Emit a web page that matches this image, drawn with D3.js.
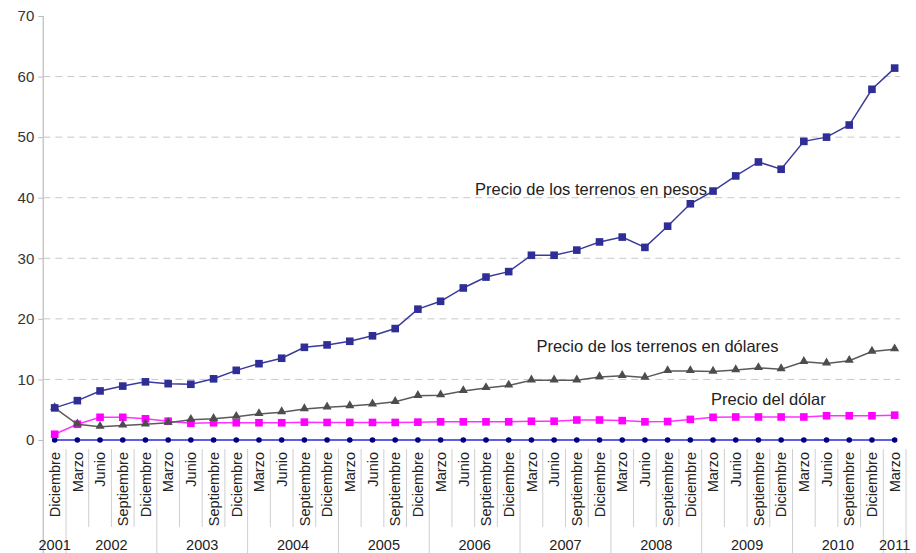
<!DOCTYPE html>
<html><head><meta charset="utf-8">
<script src="https://cdn.jsdelivr.net/npm/d3@7"></script>
<style>
html,body{margin:0;padding:0;background:#fff;}
text{font-family:"Liberation Sans",Arial,sans-serif;}
</style></head>
<body><svg id="chart" width="916" height="553"></svg>
<script>
const months = ["Diciembre","Marzo","Junio","Septiembre","Diciembre","Marzo","Junio","Septiembre","Diciembre","Marzo","Junio","Septiembre","Diciembre","Marzo","Junio","Septiembre","Diciembre","Marzo","Junio","Septiembre","Diciembre","Marzo","Junio","Septiembre","Diciembre","Marzo","Junio","Septiembre","Diciembre","Marzo","Junio","Septiembre","Diciembre","Marzo","Junio","Septiembre","Diciembre","Marzo"];
const years = ["2001","2002","2002","2002","2002","2003","2003","2003","2003","2004","2004","2004","2004","2005","2005","2005","2005","2006","2006","2006","2006","2007","2007","2007","2007","2008","2008","2008","2008","2009","2009","2009","2009","2010","2010","2010","2010","2011"];
const pesos = [5.3,6.5,8.1,8.9,9.6,9.3,9.2,10.1,11.5,12.6,13.5,15.3,15.7,16.3,17.2,18.4,21.6,22.9,25.1,26.9,27.8,30.5,30.5,31.35,32.7,33.5,31.8,35.3,39.0,41.1,43.6,45.9,44.7,49.3,50.0,52.0,57.9,61.4];
const dolares = [5.3,2.6,2.2,2.4,2.6,2.85,3.35,3.5,3.85,4.3,4.6,5.1,5.4,5.6,5.9,6.3,7.3,7.4,8.1,8.6,9.0,9.85,9.85,9.85,10.4,10.6,10.3,11.4,11.4,11.3,11.55,11.9,11.7,12.9,12.65,13.1,14.6,15.0];
const dolar = [0.95,2.6,3.75,3.75,3.5,3.1,2.75,2.85,2.85,2.85,2.85,2.95,2.9,2.9,2.9,2.9,2.95,3.0,3.0,3.0,3.0,3.1,3.1,3.3,3.3,3.2,3.0,3.05,3.4,3.75,3.8,3.8,3.8,3.8,4.0,4.0,4.0,4.1];
const base = months.map(() => 0);
const yTicks = [0,10,20,30,40,50,60,70];
const labels = ["Precio de los terrenos en pesos","Precio de los terrenos en dólares","Precio del dólar"];

const svg = d3.select("#chart");
const mLeft = 43.3, mRight = 906, mTop = 16, mBottom = 440;
const idx = d3.range(months.length);
const x = d3.scaleBand().domain(idx).range([mLeft, mRight]).padding(0);
const cx = i => x(i) + x.bandwidth()/2;
const y = d3.scaleLinear().domain([0,70]).range([mBottom, mTop]);

// gridlines
svg.append("g").selectAll("line").data(yTicks.filter(t => t>0 && t<70)).join("line")
  .attr("x1", mLeft).attr("x2", 900).attr("y1", d=>y(d)).attr("y2", d=>y(d))
  .attr("stroke", "#c8c8c8").attr("stroke-width", 1).attr("stroke-dasharray", "7,5");

// y axis
const yAxis = d3.axisLeft(y).tickValues(yTicks).tickSize(5).tickPadding(4);
const gy = svg.append("g").attr("transform", `translate(${mLeft},0)`).call(yAxis);
gy.select(".domain").remove();
gy.selectAll(".tick line").attr("stroke", "#bbb");
gy.selectAll(".tick text").attr("font-size", 15).attr("fill", "#333")
  .style("font-family", '"Liberation Sans",Arial,sans-serif');
svg.append("line").attr("x1", mLeft).attr("x2", mLeft).attr("y1", mTop).attr("y2", 553)
  .attr("stroke", "#c8c8c8").attr("stroke-width", 1.5);

// category separators
const sepG = svg.append("g");
idx.forEach(i => {
  const xb = x(i) + x.bandwidth();
  const yearBoundary = i === months.length-1 || years[i] !== years[i+1];
  sepG.append("line").attr("x1", xb).attr("x2", xb)
    .attr("y1", 449).attr("y2", yearBoundary ? 553 : 527)
    .attr("stroke", "#cfcfcf").attr("stroke-width", 1);
});

// category labels (rotated)
svg.append("g").selectAll("text").data(idx).join("text")
  .attr("transform", d => `translate(${cx(d)},452) rotate(-90)`)
  .attr("text-anchor", "end").attr("dy", "0.36em")
  .attr("font-size", 14.5).attr("fill", "#222")
  .text(d => months[d]);

// year labels
const yearGroups = d3.groups(idx, i => years[i]);
svg.append("g").selectAll("text").data(yearGroups).join("text")
  .attr("x", d => (x(d[1][0]) + x(d[1][d[1].length-1]) + x.bandwidth())/2)
  .attr("y", 550).attr("text-anchor", "middle")
  .attr("font-size", 14.5).attr("fill", "#222")
  .text(d => d[0]);

const line = d3.line().x((d,i)=>cx(i)).y(d=>y(d));

// series: baseline
svg.append("path").datum(base).attr("d", line).attr("fill","none").attr("stroke","#2a2ad8").attr("stroke-width",1.5);
svg.append("g").selectAll("circle").data(base).join("circle")
  .attr("cx",(d,i)=>cx(i)).attr("cy",d=>y(d)).attr("r",2.8).attr("fill","#000080");

// dolar (magenta)
svg.append("path").datum(dolar).attr("d", line).attr("fill","none").attr("stroke","#ff33ff").attr("stroke-width",1.5);
svg.append("g").selectAll("rect").data(dolar).join("rect")
  .attr("x",(d,i)=>cx(i)-3.8).attr("y",d=>y(d)-3.8).attr("width",7.6).attr("height",7.6).attr("fill","#ff00ff");

// dolares (gray triangles)
svg.append("path").datum(dolares).attr("d", line).attr("fill","none").attr("stroke","#5a5a5a").attr("stroke-width",1.5);
const tri = d3.symbol().type(d3.symbolTriangle).size(36);
svg.append("g").selectAll("path").data(dolares).join("path")
  .attr("d", tri).attr("transform",(d,i)=>`translate(${cx(i)},${y(d)-0.5})`).attr("fill","#4d4d4d");

// pesos (blue squares)
svg.append("path").datum(pesos).attr("d", line).attr("fill","none").attr("stroke","#3a3a9c").attr("stroke-width",1.5);
svg.append("g").selectAll("rect").data(pesos).join("rect")
  .attr("x",(d,i)=>cx(i)-3.8).attr("y",d=>y(d)-3.8).attr("width",7.6).attr("height",7.6).attr("fill","#2e2e96");

// annotations
svg.append("text").attr("x", cx(29)-6).attr("y", y(40.4)).attr("text-anchor","end")
  .attr("font-size",16.5).attr("fill","#222").text(labels[0]);
svg.append("text").attr("x", cx(21)+5).attr("y", y(14.5)).attr("text-anchor","start")
  .attr("font-size",16.5).attr("fill","#222").text(labels[1]);
svg.append("text").attr("x", cx(29)-2).attr("y", y(5.8)).attr("text-anchor","start")
  .attr("font-size",16.5).attr("fill","#222").text(labels[2]);
</script></body></html>
